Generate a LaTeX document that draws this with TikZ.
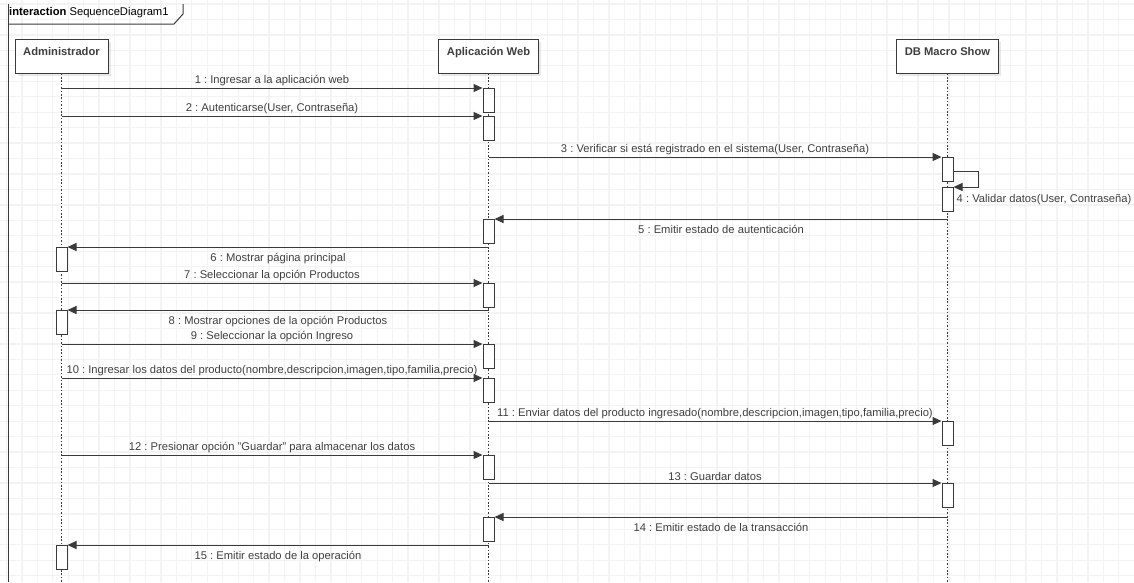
\documentclass[tikz,border=0pt]{standalone}
\usepackage{fontspec}
\setmainfont{Liberation Sans}
\usetikzlibrary{arrows.meta,positioning,shadows}
\definecolor{ink}{HTML}{3F3F3F}
\definecolor{edge}{HTML}{3A3A3A}
\definecolor{gridc}{HTML}{F3F3F3}
\frenchspacing

\begin{document}
\begin{tikzpicture}[x=1pt,y=-1pt,
    every node/.style={font=\fontsize{11.2}{13}\selectfont, text=ink},
    head/.style={draw=edge, fill=white, line width=1pt, inner sep=3pt, text height=13pt, text depth=15pt,
      drop shadow={shadow xshift=2.5pt, shadow yshift=-2.5pt, opacity=.18}},
    act/.style={draw=edge, fill=white, line width=1pt, minimum width=11pt, minimum height=24pt, inner sep=0pt, anchor=north},
    life/.style={edge, line width=1.1pt, dash pattern=on 1.6pt off 1.8pt},
    msg/.style={edge, line width=1pt, -{Triangle[length=9pt,width=8pt]}},
    lbl/.style={inner sep=2pt},
    lblb/.style={inner sep=2pt, below, yshift=-3.5pt}]
  \useasboundingbox (0,0) rectangle (1134,582);
  \foreach \i in {0,...,73} \draw[gridc, line width=1.3pt] (6.4+15.45*\i,0) -- ++(0,582);
  \foreach \j in {0,...,37} \draw[gridc, line width=1.3pt] (0,4+15.45*\j) -- ++(1134,0);

  \draw[edge, line width=1pt] (8,4) -- (8,582);
  \draw[edge, line width=1pt] (183,4) -- (183,14) -- (174,24) -- (8,24);
  \node[anchor=west, text=black, inner sep=0pt] (title) at (9,13) {\textbf{interaction} SequenceDiagram1};

  \node[head, minimum width=93pt] (admin) at (61.5,56) {\textbf{Administrador}};
  \node[head, minimum width=100pt] (web) at (488.5,56) {\textbf{Aplicación Web}};
  \node[head, minimum width=102pt] (db) at (947.5,56) {\textbf{DB Macro Show}};
  \coordinate (bottom) at (0,582);
  \foreach \l in {admin,web,db} \draw[life] (\l.south) -- (\l.south |- bottom);

  \foreach \n/\y in {1/88,2/116,5/219,7/283,9/344,10/378,12/455,14/517}
    \node[act] (w\n) at (web.south |- 0,\y) {};
  \foreach \n/\y in {3/157,4/187,11/421,13/483}
    \node[act] (d\n) at (db.south |- 0,\y) {};
  \foreach \n/\y in {6/247,8/310,15/545}
    \node[act] (a\n) at (admin.south |- 0,\y) {};

  \draw[msg] (admin |- w1.north) -- (w1.north west) node[lbl, midway, above] {1 : Ingresar a la aplicación web};
  \draw[msg] (admin |- w2.north) -- (w2.north west) node[lbl, midway, above] {2 : Autenticarse(User, Contraseña)};
  \draw[msg] (web |- d3.north) -- (d3.north west) node[lbl, midway, above] {3 : Verificar si está registrado en el sistema(User, Contraseña)};
  \coordinate (loop) at (978,171);
  \draw[msg] (d3.east |- loop) -- (loop) -- (loop |- d4.north) -- (d4.north east);
  \node[lbl, right=1pt of d4] (l4) {4 : Validar datos(User, Contraseña)};
  \draw[msg] (db |- w5.north) -- (w5.north east) node[lblb, midway] {5 : Emitir estado de autenticación};
  \draw[msg] (web |- a6.north) -- (a6.north east) node[lblb, midway] {6 : Mostrar página principal};
  \draw[msg] (admin |- w7.north) -- (w7.north west) node[lbl, midway, above] {7 : Seleccionar la opción Productos};
  \draw[msg] (web |- a8.north) -- (a8.north east) node[lblb, midway] {8 : Mostrar opciones de la opción Productos};
  \draw[msg] (admin |- w9.north) -- (w9.north west) node[lbl, midway, above] {9 : Seleccionar la opción Ingreso};
  \draw[msg] (admin |- w10.north) -- (w10.north west) node[lbl, midway, above] {10 : Ingresar los datos del producto(nombre,descripcion,imagen,tipo,familia,precio)};
  \draw[msg] (web |- d11.north) -- (d11.north west) node[lbl, midway, above] {11 : Enviar datos del producto ingresado(nombre,descripcion,imagen,tipo,familia,precio)};
  \draw[msg] (admin |- w12.north) -- (w12.north west) node[lbl, midway, above] {12 : Presionar opción "Guardar" para almacenar los datos};
  \draw[msg] (web |- d13.north) -- (d13.north west) node[lbl, midway, above] {13 : Guardar datos};
  \draw[msg] (db |- w14.north) -- (w14.north east) node[lblb, midway] {14 : Emitir estado de la transacción};
  \draw[msg] (web |- a15.north) -- (a15.north east) node[lblb, midway] {15 : Emitir estado de la operación};
\end{tikzpicture}
\end{document}
